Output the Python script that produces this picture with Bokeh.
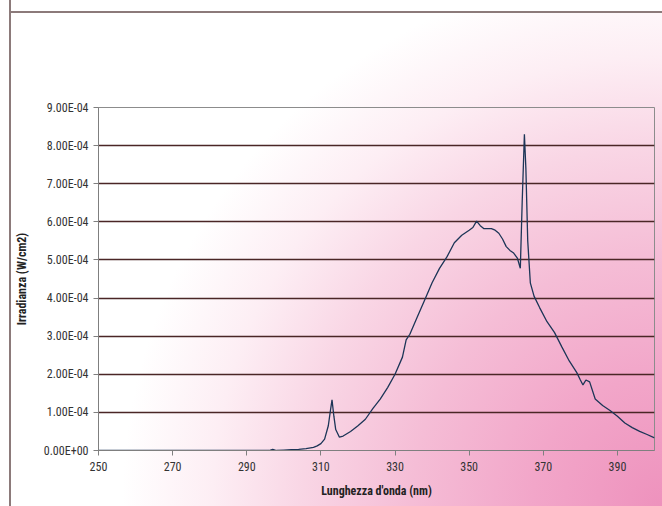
from bokeh.plotting import figure
from bokeh.models import FixedTicker, Range1d
from bokeh.embed import file_html
from bokeh.resources import INLINE

# ---- data ----
wavelength_nm = [250, 296, 297, 298, 300, 302, 304, 306, 308, 309, 310, 311, 312, 312.5, 313,
                 313.5, 314, 315, 316, 318, 320, 322, 324, 326, 328, 330, 332, 333, 334, 336,
                 338, 340, 342, 344, 346, 348, 350, 351, 352, 353, 354, 356, 357, 358, 359,
                 360, 361, 362, 363, 363.8, 364.3, 364.9, 365.3, 365.8, 366.5, 367.5, 369, 371,
                 373, 375, 377, 379, 380, 380.7, 381.5, 382.5, 384, 386, 388, 390, 392, 394,
                 396, 398, 400]
irradiance = [0.0, 0.0, 0.03e-4, 0.0, 0.01e-4, 0.02e-4, 0.03e-4, 0.05e-4, 0.08e-4, 0.12e-4,
              0.18e-4, 0.30e-4, 0.65e-4, 1.00e-4, 1.33e-4, 0.90e-4, 0.55e-4, 0.35e-4, 0.38e-4,
              0.50e-4, 0.65e-4, 0.82e-4, 1.10e-4, 1.35e-4, 1.65e-4, 2.00e-4, 2.45e-4, 2.90e-4,
              3.05e-4, 3.50e-4, 3.95e-4, 4.40e-4, 4.78e-4, 5.08e-4, 5.45e-4, 5.65e-4, 5.78e-4,
              5.85e-4, 6.02e-4, 5.90e-4, 5.82e-4, 5.82e-4, 5.78e-4, 5.70e-4, 5.55e-4, 5.35e-4,
              5.25e-4, 5.18e-4, 5.05e-4, 4.78e-4, 6.50e-4, 8.30e-4, 7.40e-4, 5.50e-4, 4.40e-4,
              4.05e-4, 3.75e-4, 3.38e-4, 3.10e-4, 2.72e-4, 2.35e-4, 2.05e-4, 1.85e-4, 1.72e-4,
              1.85e-4, 1.80e-4, 1.35e-4, 1.18e-4, 1.05e-4, 0.90e-4, 0.72e-4, 0.60e-4, 0.50e-4,
              0.42e-4, 0.33e-4]

x_ticks = [250, 270, 290, 310, 330, 350, 370, 390]
y_ticks = [0.0, 1e-4, 2e-4, 3e-4, 4e-4, 5e-4, 6e-4, 7e-4, 8e-4, 9e-4]
y_tick_labels = ["0.00E+00", "1.00E-04", "2.00E-04", "3.00E-04", "4.00E-04",
                 "5.00E-04", "6.00E-04", "7.00E-04", "8.00E-04", "9.00E-04"]
grid_ticks = y_ticks[1:-1]

x_title = "Lunghezza d'onda (nm)"
y_title = "Irradianza (W/cm2)"

FONT = "Liberation Sans Narrow, Arial Narrow, Roboto Condensed, Liberation Sans, sans-serif"

p = figure(width=662, height=506, output_backend="svg", toolbar_location=None,
           x_range=Range1d(250, 400), y_range=Range1d(0, 9e-4),
           min_border_left=98, min_border_right=8, min_border_top=107, min_border_bottom=56)

# chart-area gradient and its left/top frame, painted behind the transparent canvas
p.styles = {
    "background-color": "#ffffff",
    "background-image": (
        "linear-gradient(to right, #ffffff 9px, #8c7a7a 9px, #8c7a7a 11px, transparent 11px), "
        "linear-gradient(to bottom, #ffffff 11px, #8c7a7a 11px, #8c7a7a 13px, transparent 13px), "
        "radial-gradient(circle at 100% 100%, #ee92bd 0px, #f2a6c9 130px, #f5bdd6 250px, "
        "#f9d6e5 360px, #fdeef4 450px, #ffffff 540px)"
    ),
    "background-repeat": "no-repeat",
}
p.background_fill_alpha = 0
p.border_fill_alpha = 0
p.outline_line_color = "#8c8c8c"
p.outline_line_width = 1

p.line(wavelength_nm, irradiance, line_color="#1c3557", line_width=1.3)

# axes
p.xaxis.ticker = FixedTicker(ticks=x_ticks)
p.yaxis.ticker = FixedTicker(ticks=y_ticks)
p.yaxis.major_label_overrides = {t: l for t, l in zip(y_ticks, y_tick_labels)}
for ax in (p.xaxis[0], p.yaxis[0]):
    ax.axis_line_color = "#7f7f7f"
    ax.major_tick_line_color = "#7f7f7f"
    ax.major_tick_out = 5
    ax.major_tick_in = 0
    ax.minor_tick_line_color = None
    ax.major_label_text_font = FONT
    ax.major_label_text_font_size = "12px"
    ax.major_label_text_color = "#333333"
    ax.axis_label_text_font = FONT
    ax.axis_label_text_font_size = "12px"
    ax.axis_label_text_font_style = "bold"
    ax.axis_label_text_color = "#222222"
p.xaxis.axis_label = x_title
p.yaxis.axis_label = y_title
p.xaxis.major_label_standoff = 6
p.yaxis.major_label_standoff = 5
p.xaxis.axis_label_standoff = 10
p.yaxis.axis_label_standoff = 12

# grid
p.xgrid.grid_line_color = None
p.ygrid.ticker = FixedTicker(ticks=grid_ticks)
p.ygrid.grid_line_color = "#4a2626"
p.ygrid.grid_line_width = 1.5

open("out.html", "w").write(file_html(p, INLINE))
